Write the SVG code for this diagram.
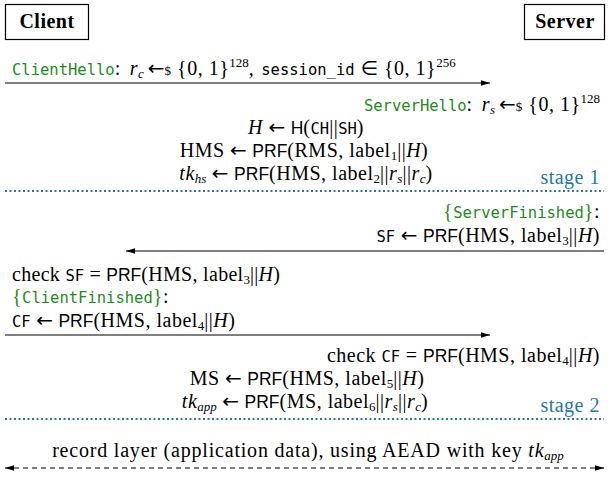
<svg xmlns="http://www.w3.org/2000/svg" width="608" height="477" viewBox="0 0 608 477">
<style>
text{font-family:"Liberation Serif","DejaVu Serif",serif;font-size:20px;letter-spacing:0.5px;fill:#000}
.b{font-weight:bold}
.m{font-family:"DejaVu Sans Mono","Liberation Mono",monospace;font-size:15.5px;letter-spacing:0}
.g{fill:#1e8c1e}
.i{font-style:italic}
.s{font-family:"Liberation Sans","DejaVu Sans",sans-serif;font-size:17.5px;letter-spacing:0}
.a{font-family:"DejaVu Sans",sans-serif;font-size:20px;letter-spacing:0}
.sm{font-size:13px;letter-spacing:0}
.bl{fill:#1f78a8}
.box{fill:#fff;stroke:#000;stroke-width:1.2}
.ln{stroke:#000;stroke-width:1.2;fill:none}
.dot{stroke:#1f78a8;stroke-width:2.2;stroke-dasharray:2 2.5;fill:none}
.dash{stroke:#000;stroke-width:1.2;stroke-dasharray:5 4;fill:none}
</style>
<defs>
<marker id="ah" viewBox="0 0 10 6" refX="10" refY="3" markerWidth="9" markerHeight="6" markerUnits="userSpaceOnUse" orient="auto-start-reverse">
<path d="M0,0 L10,3 L0,6 z" fill="#000"/>
</marker>
</defs>

<g id="node-client">
<rect class="box" x="5.5" y="4.5" width="83" height="35"/>
<text class="b" x="47" y="28" text-anchor="middle">Client</text>
</g>
<g id="node-server">
<rect class="box" x="524.5" y="4.5" width="80" height="35"/>
<text class="b" x="565" y="28" text-anchor="middle">Server</text>
</g>

<g id="connectors">
<line class="ln" x1="5" y1="83" x2="490" y2="83" marker-end="url(#ah)"/>
<line class="ln" x1="604" y1="251" x2="126" y2="251" marker-end="url(#ah)"/>
<line class="ln" x1="5" y1="335" x2="490" y2="335" marker-end="url(#ah)"/>
<line class="dash" x1="5" y1="468" x2="604" y2="468" marker-start="url(#ah)" marker-end="url(#ah)"/>
<line class="dot" x1="5" y1="191" x2="604" y2="191"/>
<line class="dot" x1="5" y1="419" x2="604" y2="419"/>
</g>

<g id="msg-clienthello">
<text x="12" y="75"><tspan class="m g">ClientHello</tspan>:<tspan class="i" dx="9">r</tspan><tspan class="i sm" dy="3">c</tspan><tspan class="a" dy="-3" dx="4">←</tspan><tspan class="sm">$</tspan><tspan dx="6">{0, 1}</tspan><tspan class="sm" dy="-8">128</tspan><tspan dy="8">,</tspan><tspan class="m" dx="7">session_id</tspan><tspan class="a" dx="6">∈</tspan><tspan dx="6">{0, 1}</tspan><tspan class="sm" dy="-8">256</tspan></text>
</g>

<g id="server-stage1">
<text x="600" y="111" text-anchor="end"><tspan class="m g">ServerHello</tspan>:<tspan class="i" dx="9">r</tspan><tspan class="i sm" dy="3">s</tspan><tspan class="a" dy="-3" dx="4">←</tspan><tspan class="sm">$</tspan><tspan dx="6">{0, 1}</tspan><tspan class="sm" dy="-8">128</tspan></text>
<text x="306" y="134" text-anchor="middle"><tspan class="i">H</tspan> <tspan class="a">←</tspan> <tspan class="s">H</tspan>(<tspan class="m">CH</tspan>||<tspan class="m">SH</tspan>)</text>
<text x="304" y="157" text-anchor="middle">HMS <tspan class="a">←</tspan> <tspan class="s">PRF</tspan>(RMS, label<tspan class="sm" dy="3">1</tspan><tspan dy="-3">||</tspan><tspan class="i">H</tspan>)</text>
<text x="306" y="180" text-anchor="middle"><tspan class="i">tk</tspan><tspan class="i sm" dy="3">hs</tspan><tspan dy="-3"> </tspan><tspan class="a">←</tspan> <tspan class="s">PRF</tspan>(HMS, label<tspan class="sm" dy="3">2</tspan><tspan dy="-3">||</tspan><tspan class="i">r</tspan><tspan class="i sm" dy="3">s</tspan><tspan dy="-3">||</tspan><tspan class="i">r</tspan><tspan class="i sm" dy="3">c</tspan><tspan dy="-3">)</tspan></text>
<text class="bl" x="600" y="184" text-anchor="end">stage 1</text>
</g>

<g id="msg-serverfinished">
<text x="600" y="218" text-anchor="end"><tspan class="g">{</tspan><tspan class="m g">ServerFinished</tspan><tspan class="g">}</tspan>:</text>
<text x="600" y="242" text-anchor="end"><tspan class="m">SF</tspan> <tspan class="a">←</tspan> <tspan class="s">PRF</tspan>(HMS, label<tspan class="sm" dy="3">3</tspan><tspan dy="-3">||</tspan><tspan class="i">H</tspan>)</text>
</g>

<g id="client-finished">
<text x="12" y="281" style="letter-spacing:0.3px">check <tspan class="m">SF</tspan> = <tspan class="s">PRF</tspan>(HMS, label<tspan class="sm" dy="3">3</tspan><tspan dy="-3">||</tspan><tspan class="i">H</tspan>)</text>
<text x="12" y="303"><tspan class="g">{</tspan><tspan class="m g">ClientFinished</tspan><tspan class="g">}</tspan>:</text>
<text x="12" y="327"><tspan class="m">CF</tspan> <tspan class="a">←</tspan> <tspan class="s">PRF</tspan>(HMS, label<tspan class="sm" dy="3">4</tspan><tspan dy="-3">||</tspan><tspan class="i">H</tspan>)</text>
</g>

<g id="server-stage2">
<text x="600" y="362" text-anchor="end">check <tspan class="m">CF</tspan> = <tspan class="s">PRF</tspan>(HMS, label<tspan class="sm" dy="3">4</tspan><tspan dy="-3">||</tspan><tspan class="i">H</tspan>)</text>
<text x="307" y="385" text-anchor="middle">MS <tspan class="a">←</tspan> <tspan class="s">PRF</tspan>(HMS, label<tspan class="sm" dy="3">5</tspan><tspan dy="-3">||</tspan><tspan class="i">H</tspan>)</text>
<text x="305" y="408" text-anchor="middle"><tspan class="i">tk</tspan><tspan class="i sm" dy="3">app</tspan><tspan dy="-3"> </tspan><tspan class="a">←</tspan> <tspan class="s">PRF</tspan>(MS, label<tspan class="sm" dy="3">6</tspan><tspan dy="-3">||</tspan><tspan class="i">r</tspan><tspan class="i sm" dy="3">s</tspan><tspan dy="-3">||</tspan><tspan class="i">r</tspan><tspan class="i sm" dy="3">c</tspan><tspan dy="-3">)</tspan></text>
<text class="bl" x="600" y="412" text-anchor="end">stage 2</text>
</g>

<g id="msg-record">
<text x="308" y="457" text-anchor="middle" style="letter-spacing:0.8px">record layer (application data), using AEAD with key <tspan class="i">tk</tspan><tspan class="i sm" dy="3">app</tspan></text>
</g>
</svg>
